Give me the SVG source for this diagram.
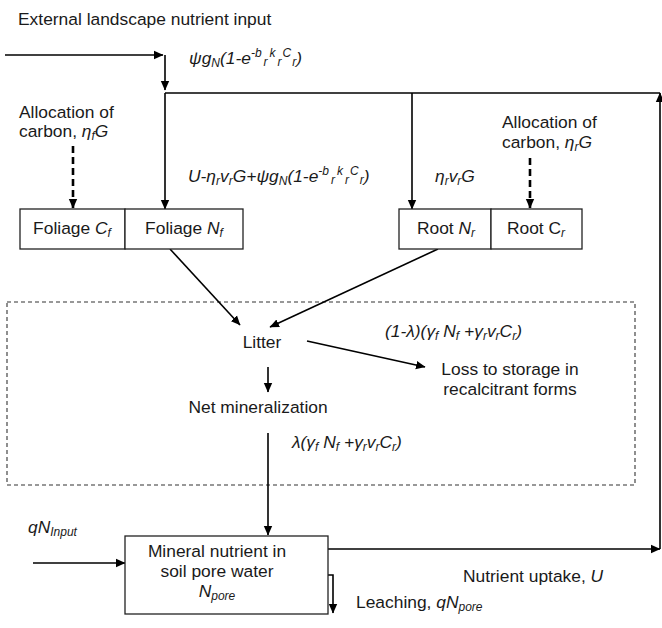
<svg xmlns="http://www.w3.org/2000/svg" width="662" height="628" viewBox="0 0 662 628">
<style>
text{font-family:"Liberation Sans",Arial,sans-serif;font-size:17.4px;fill:#1a1a1a}
.i{font-style:italic}
.s{font-size:12px}
.c{text-anchor:middle}
.ln{stroke:#000;stroke-width:1.6;fill:none}
.ds{stroke:#000;stroke-width:2.6;fill:none;stroke-dasharray:7 4}
.box{fill:#fff;stroke:#222;stroke-width:1.3}
.dbox{fill:none;stroke:#333;stroke-width:1.1;stroke-dasharray:4 3}
</style>
<defs>
<marker id="ah" markerWidth="10" markerHeight="10" refX="9" refY="5" orient="auto" markerUnits="userSpaceOnUse">
<path d="M0,0.8 L9.5,5 L0,9.2 Z" fill="#000"/>
</marker>
</defs>
<rect width="662" height="628" fill="#fff"/>

<g id="region-litter">
<rect class="dbox" x="7" y="302" width="628" height="183"/>
</g>

<g id="connectors">
<path class="ln" d="M5,55 H163" marker-end="url(#ah)"/>
<path class="ln" d="M165,55 V90" marker-end="url(#ah)"/>
<path class="ln" d="M165,93 H660"/>
<path class="ln" d="M165,93 V209" marker-end="url(#ah)"/>
<path class="ln" d="M412,93 V209" marker-end="url(#ah)"/>
<path class="ds" d="M73,146 V208" marker-end="url(#ah)"/>
<path class="ds" d="M530,158 V208" marker-end="url(#ah)"/>
<path class="ln" d="M170,249 L240,325" marker-end="url(#ah)"/>
<path class="ln" d="M438,249 L270,327" marker-end="url(#ah)"/>
<path class="ln" d="M307,341 L425,367" marker-end="url(#ah)"/>
<path class="ln" d="M268,367 V392" marker-end="url(#ah)"/>
<path class="ln" d="M268,433 V535" marker-end="url(#ah)"/>
<path class="ln" d="M33,563 H125" marker-end="url(#ah)"/>
<path class="ln" d="M328,549 H660" marker-end="url(#ah)"/>
<path class="ln" d="M660,549 V93" marker-end="url(#ah)"/>
<path class="ln" d="M328,575 H333 V613" marker-end="url(#ah)"/>
</g>

<g id="labels">
<text x="18" y="25">External landscape nutrient input</text>
<text x="189" y="64" class="i">ψg<tspan class="s" dy="3">N</tspan><tspan dy="-3">(1-e</tspan><tspan class="s" dy="-7">-b</tspan><tspan class="s" dx="2" dy="9">r</tspan><tspan class="s" dx="2" dy="-9">k</tspan><tspan class="s" dx="2" dy="9">r</tspan><tspan class="s" dx="1" dy="-9">C</tspan><tspan class="s" dx="1" dy="9">r</tspan><tspan dy="-2">)</tspan></text>
<text x="19" y="118">Allocation of</text>
<text x="19" y="137">carbon, <tspan class="i">η</tspan><tspan class="i s" dy="3">f</tspan><tspan class="i" dy="-3">G</tspan></text>
<text x="502" y="128">Allocation of</text>
<text x="502" y="148">carbon, <tspan class="i">η</tspan><tspan class="i s" dy="3">r</tspan><tspan class="i" dy="-3">G</tspan></text>
<text x="188" y="182" class="i">U-η<tspan class="s" dy="3">r</tspan><tspan dy="-3">v</tspan><tspan class="s" dy="3">r</tspan><tspan dy="-3">G+ψg</tspan><tspan class="s" dy="3">N</tspan><tspan dy="-3">(1-e</tspan><tspan class="s" dy="-7">-b</tspan><tspan class="s" dx="2" dy="9">r</tspan><tspan class="s" dx="2" dy="-9">k</tspan><tspan class="s" dx="2" dy="9">r</tspan><tspan class="s" dx="1" dy="-9">C</tspan><tspan class="s" dx="1" dy="9">r</tspan><tspan dy="-2">)</tspan></text>
<text x="435" y="182" class="i">η<tspan class="s" dy="3">r</tspan><tspan dy="-3">v</tspan><tspan class="s" dy="3">r</tspan><tspan dy="-3">G</tspan></text>
<text x="385" y="337" class="i">(1-λ)(γ<tspan class="s" dy="3">f</tspan><tspan dy="-3"> N</tspan><tspan class="s" dy="3">f</tspan><tspan dy="-3"> +γ</tspan><tspan class="s" dy="3">r</tspan><tspan dy="-3">v</tspan><tspan class="s" dy="3">r</tspan><tspan dy="-3">C</tspan><tspan class="s" dy="3">r</tspan><tspan dy="-3">)</tspan></text>
<text x="292" y="448" class="i">λ(γ<tspan class="s" dy="3">f</tspan><tspan dy="-3"> N</tspan><tspan class="s" dy="3">f</tspan><tspan dy="-3"> +γ</tspan><tspan class="s" dy="3">r</tspan><tspan dy="-3">v</tspan><tspan class="s" dy="3">r</tspan><tspan dy="-3">C</tspan><tspan class="s" dy="3">r</tspan><tspan dy="-3">)</tspan></text>
<text x="28" y="533" class="i">qN<tspan class="s" dy="3">Input</tspan></text>
<text x="463" y="582">Nutrient uptake, <tspan class="i">U</tspan></text>
<text x="356" y="608">Leaching, <tspan class="i">qN</tspan><tspan class="i s" dy="3">pore</tspan></text>
</g>

<g id="node-foliage-c">
<rect class="box" x="20" y="209" width="105" height="40"/>
<text x="72" y="234" class="c">Foliage <tspan class="i">C</tspan><tspan class="i s" dy="3">f</tspan></text>
</g>
<g id="node-foliage-n">
<rect class="box" x="125" y="209" width="118" height="40"/>
<text x="184" y="234" class="c">Foliage <tspan class="i">N</tspan><tspan class="i s" dy="3">f</tspan></text>
</g>
<g id="node-root-n">
<rect class="box" x="399" y="209" width="92" height="40"/>
<text x="446" y="234" class="c">Root <tspan class="i">N</tspan><tspan class="i s" dy="3">r</tspan></text>
</g>
<g id="node-root-c">
<rect class="box" x="491" y="209" width="91" height="40"/>
<text x="536" y="234" class="c">Root C<tspan class="i s" dy="3">r</tspan></text>
</g>
<g id="node-litter">
<text x="262" y="348" class="c">Litter</text>
</g>
<g id="node-net-mineralization">
<text x="258" y="413" class="c">Net mineralization</text>
</g>
<g id="node-loss">
<text x="510" y="375" class="c">Loss to storage in</text>
<text x="510" y="395" class="c">recalcitrant forms</text>
</g>
<g id="node-mineral">
<rect class="box" x="125" y="536" width="203" height="78"/>
<text x="217" y="557" class="c">Mineral nutrient in</text>
<text x="217" y="577" class="c">soil pore water</text>
<text x="217" y="597" class="c"><tspan class="i">N</tspan><tspan class="i s" dy="3">pore</tspan></text>
</g>
</svg>
